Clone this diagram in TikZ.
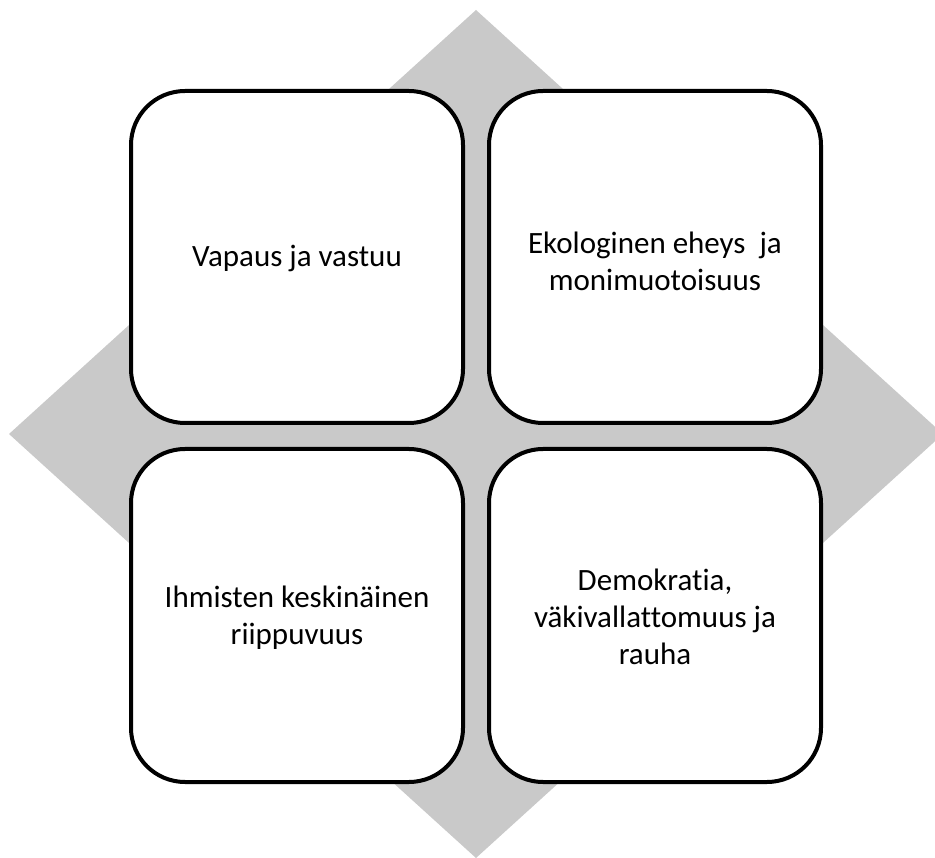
\documentclass[tikz,border=0pt]{standalone}
\usepackage{fontspec}
\setmainfont[Ligatures={NoCommon}]{Carlito}
\definecolor{diagray}{RGB}{201,201,201}
\begin{document}
\begin{tikzpicture}[x=1pt,y=-1pt,
  card/.style={draw=black,line width=4pt,fill=white,rounded corners=54pt},
  cardtext/.style={align=center,font=\fontsize{31}{37}\selectfont,text=black}]
\useasboundingbox (0,0) rectangle (935,858);
\begin{scope}
\clip (0,0) rectangle (935,858);
\fill[diagray] (476,10) -- (943,434) -- (476,858) -- (9,434) -- cycle;
\end{scope}
\draw[card] (131,91) rectangle (463,423);
\draw[card] (489,91) rectangle (821,423);
\draw[card] (131,449) rectangle (463,782);
\draw[card] (489,449) rectangle (821,782);
\node[cardtext] (tl) at (297,258) {Vapaus ja vastuu};
\node[cardtext] (tr) at (655,261) {Ekologinen eheys\ \ ja\\monimuotoisuus};
\node[cardtext] (bl) at (297,618) {Ihmisten keskinäinen\\riippuvuus};
\node[cardtext] (br) at (655,617) {Demokratia,\\väkivallattomuus ja\\rauha};
\end{tikzpicture}
\end{document}
